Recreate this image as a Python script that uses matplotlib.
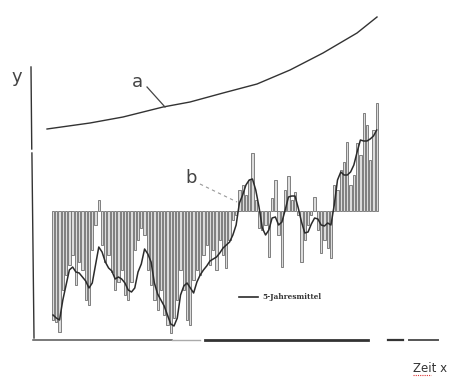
import numpy as np
import matplotlib
matplotlib.use('Agg')
import matplotlib.pyplot as plt

# Yearly deviations (bars) and the 5-year mean (line)
years = np.arange(1890, 1990)
deviation = [
    -1.09, -1.11, -1.21, -0.79, -0.64, -0.54, -0.44, -0.74, -0.51, -0.59,
    -0.89, -0.94, -0.39, -0.14, 0.11, -0.34, -0.51, -0.44, -0.61, -0.79,
    -0.71, -0.59, -0.84, -0.89, -0.71, -0.39, -0.29, -0.17, -0.24, -0.59,
    -0.74, -0.89, -0.99, -0.79, -1.04, -1.14, -1.22, -1.07, -0.89, -0.59,
    -0.79, -1.09, -1.14, -0.69, -0.59, -0.64, -0.44, -0.34, -0.54, -0.39,
    -0.59, -0.29, -0.44, -0.57, -0.29, -0.09, -0.04, 0.21, 0.26, 0.16,
    0.31, 0.58, 0.11, -0.17, -0.19, -0.14, -0.46, 0.13, 0.31, -0.24,
    -0.56, 0.21, 0.35, 0.11, 0.19, -0.04, -0.51, -0.29, -0.14, -0.04,
    0.14, -0.19, -0.42, -0.29, -0.37, -0.47, 0.26, 0.21, 0.41, 0.49,
    0.69, 0.26, 0.36, 0.68, 0.56, 0.98, 0.86, 0.51, 0.81, 1.08,
]
mean5 = [
    -1.04, -1.07, -1.09, -0.89, -0.74, -0.59, -0.56, -0.61, -0.62, -0.66,
    -0.70, -0.77, -0.72, -0.54, -0.36, -0.41, -0.51, -0.57, -0.60, -0.68,
    -0.66, -0.68, -0.72, -0.79, -0.81, -0.77, -0.61, -0.53, -0.38, -0.43,
    -0.51, -0.72, -0.83, -0.89, -0.95, -1.04, -1.13, -1.15, -1.07, -0.84,
    -0.75, -0.72, -0.77, -0.82, -0.71, -0.64, -0.59, -0.55, -0.50, -0.48,
    -0.46, -0.42, -0.37, -0.34, -0.31, -0.24, -0.14, 0.08, 0.16, 0.26,
    0.31, 0.32, 0.21, 0.04, -0.17, -0.24, -0.19, -0.07, -0.06, -0.14,
    -0.11, 0.01, 0.14, 0.15, 0.15, 0.03, -0.11, -0.22, -0.21, -0.13,
    -0.07, -0.08, -0.14, -0.15, -0.12, -0.14, 0.06, 0.31, 0.39, 0.36,
    0.36, 0.39, 0.46, 0.59, 0.71, 0.70, 0.70, 0.72, 0.75, 0.81,
]

# Curve a (rising trend drawn above)
curve_x = [1888.17, 1901.31, 1911.41, 1923.64, 1931.90, 1941.99, 1952.39,
           1962.48, 1972.57, 1982.97, 1989.08]
curve_y = [0.82, 0.88, 0.94, 1.04, 1.09, 1.18, 1.27, 1.41, 1.58, 1.78, 1.94]

fig = plt.figure(figsize=(4.7, 3.79), dpi=100)
ax = fig.add_axes([0, 0, 1, 1])
ax.set_xlim(1873.79, 2017.52)
ax.set_ylim(-1.68, 2.11)
ax.axis('off')

ax.bar(years, deviation, width=0.7, color='#dcdcdc', edgecolor='#6e6e6e', linewidth=0.6)
ax.plot(years, mean5, color='#2b2b2b', linewidth=1.1)
ax.plot(curve_x, curve_y, color='#333333', linewidth=1.0)

# hand drawn axes
ax.plot([1883.27, 1883.5], [1.44, 0.62], color='#333333', linewidth=1.0)
ax.plot([1883.55, 1884.19], [0.58, -1.27], color='#333333', linewidth=1.0)
ax.plot([1883.88, 1926.39], [-1.29, -1.29], color='#555555', linewidth=1.1)
ax.plot([1926.39, 1934.95], [-1.29, -1.29], color='#aaaaaa', linewidth=1.0)
ax.plot([1936.48, 1986.33], [-1.29, -1.29], color='#333333', linewidth=2.0)
ax.plot([1992.45, 1997.03], [-1.29, -1.29], color='#333333', linewidth=1.6)
ax.plot([1998.87, 2007.74], [-1.29, -1.29], color='#555555', linewidth=1.4)

# labels
ax.text(1879.0, 1.34, 'y', fontsize=13, color='#444444', ha='center', va='center')
ax.text(1915.69, 1.29, 'a', fontsize=13, color='#444444', ha='center', va='center')
ax.plot([1918.75, 1924.25], [1.24, 1.04], color='#444444', linewidth=0.9)
ax.text(1932.2, 0.33, 'b', fontsize=13, color='#444444', ha='center', va='center')
ax.plot([1934.95, 1946.27], [0.27, 0.09], color='#999999', linewidth=0.8, linestyle=(0, (3, 3)))

# legend
ax.plot([1946.88, 1952.69], [-0.86, -0.86], color='#2b2b2b', linewidth=1.2)
ax.text(1953.91, -0.86, '5-Jahresmittel', fontsize=5.3, family='DejaVu Serif',
        fontweight='bold', color='#333333', va='center')

ax.text(2000.09, -1.57, 'Zeit x', fontsize=8.5, color='#333333', va='center')
ax.plot([2000.09, 2005.6], [-1.64, -1.64], color='#dd3333', linewidth=0.8, linestyle=(0, (1, 1)))

plt.savefig('out.png', dpi=100)
